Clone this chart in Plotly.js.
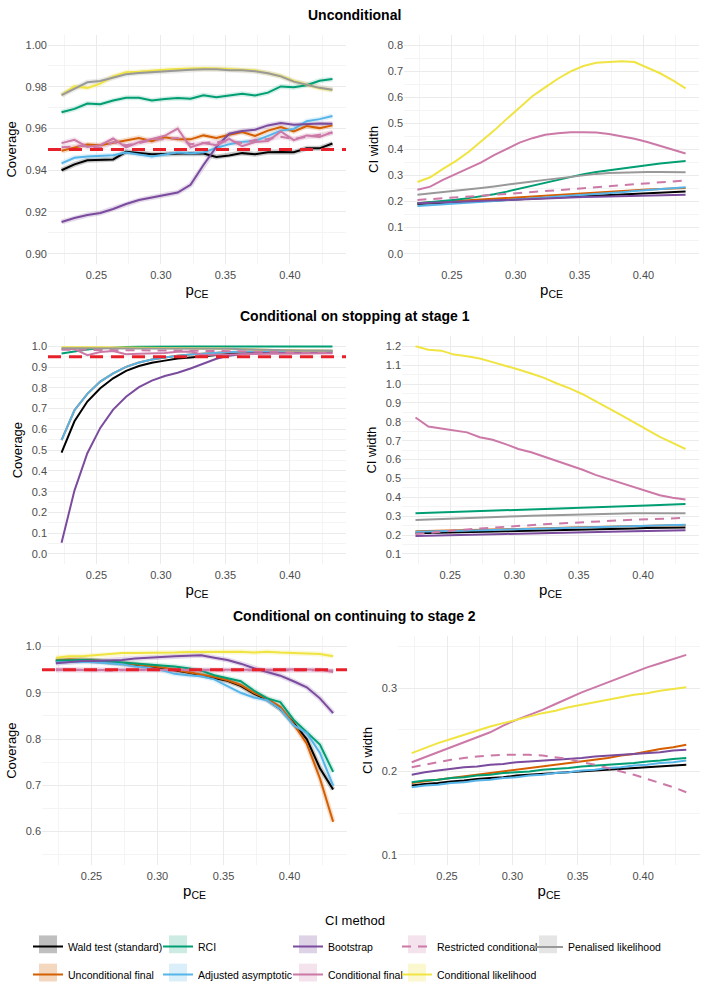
<!DOCTYPE html>
<html>
<head>
<meta charset="utf-8">
<script src="https://cdn.plot.ly/plotly-3.0.1.min.js"></script>
<style>html,body{margin:0;padding:0;background:#fff}#chart{width:709px;height:989px}</style>
</head>
<body>
<div id="chart"></div>
<script>
// ---------- DATA ----------
const pce = [0.223,0.233,0.243,0.253,0.263,0.273,0.283,0.293,0.303,0.313,0.323,0.333,0.343,0.353,0.363,0.373,0.383,0.393,0.403,0.413,0.423,0.433];

// Unconditional: coverage
const covU_wald   = [0.9400,0.9428,0.9448,0.9450,0.9452,0.9488,0.9481,0.9477,0.9478,0.9480,0.9481,0.9480,0.9464,0.9471,0.9482,0.9477,0.9486,0.9487,0.9486,0.9505,0.9505,0.9528];
const covU_uncond = [0.9493,0.9507,0.9523,0.9520,0.9532,0.9545,0.9555,0.9539,0.9558,0.9548,0.9548,0.9567,0.9555,0.9570,0.9583,0.9564,0.9590,0.9607,0.9586,0.9612,0.9602,0.9615];
const covU_rci    = [0.9678,0.9694,0.9720,0.9716,0.9734,0.9748,0.9748,0.9735,0.9742,0.9746,0.9743,0.9760,0.9750,0.9760,0.9767,0.9758,0.9772,0.9802,0.9798,0.9808,0.9829,0.9837];
const covU_adj    = [0.9433,0.9460,0.9466,0.9469,0.9472,0.9485,0.9475,0.9466,0.9475,0.9485,0.9482,0.9485,0.9507,0.9525,0.9536,0.9540,0.9565,0.9590,0.9598,0.9635,0.9645,0.9660];
const covU_boot   = [0.9152,0.9171,0.9185,0.9195,0.9214,0.9238,0.9257,0.9269,0.9284,0.9293,0.9330,0.9425,0.9512,0.9575,0.9588,0.9594,0.9615,0.9626,0.9618,0.9621,0.9624,0.9623];
const covU_cond   = [0.9530,0.9546,0.9512,0.9520,0.9552,0.9510,0.9535,0.9550,0.9565,0.9600,0.9510,0.9530,0.9520,0.9550,0.9515,0.9535,0.9540,0.9586,0.9544,0.9567,0.9560,0.9583];
const covU_restr  = [0.9510,0.9515,0.9518,0.9505,0.9535,0.9520,0.9530,0.9545,0.9550,0.9555,0.9525,0.9530,0.9535,0.9540,0.9530,0.9545,0.9550,0.9560,0.9550,0.9560,0.9570,0.9580];
const covU_clik   = [0.9760,0.9802,0.9795,0.9815,0.9850,0.9870,0.9872,0.9878,0.9882,0.9885,0.9888,0.9889,0.9888,0.9886,0.9882,0.9878,0.9866,0.9852,0.9828,0.9812,0.9793,0.9785];
const covU_pen    = [0.9760,0.9790,0.9822,0.9828,0.9845,0.9860,0.9866,0.9870,0.9875,0.9880,0.9882,0.9884,0.9884,0.9880,0.9880,0.9875,0.9865,0.9850,0.9825,0.9810,0.9795,0.9786];

// Unconditional: CI width
const widU_wald   = [0.190,0.192,0.194,0.197,0.199,0.201,0.204,0.206,0.209,0.211,0.214,0.216,0.218,0.221,0.223,0.225,0.227,0.229,0.232,0.234,0.236,0.238];
const widU_uncond = [0.193,0.196,0.199,0.202,0.205,0.208,0.211,0.214,0.217,0.221,0.224,0.227,0.230,0.233,0.236,0.239,0.241,0.244,0.246,0.248,0.250,0.252];
const widU_rci    = [0.193,0.197,0.202,0.207,0.213,0.220,0.228,0.238,0.249,0.260,0.271,0.282,0.294,0.305,0.313,0.320,0.327,0.334,0.340,0.346,0.351,0.355];
const widU_adj    = [0.183,0.186,0.189,0.192,0.195,0.198,0.201,0.205,0.208,0.212,0.215,0.219,0.222,0.226,0.229,0.233,0.236,0.240,0.244,0.248,0.251,0.255];
const widU_boot   = [0.193,0.195,0.197,0.199,0.201,0.203,0.205,0.207,0.209,0.211,0.212,0.214,0.215,0.217,0.218,0.219,0.220,0.221,0.222,0.223,0.225,0.226];
const widU_cond   = [0.245,0.257,0.283,0.305,0.330,0.350,0.378,0.403,0.426,0.443,0.456,0.462,0.466,0.466,0.465,0.459,0.451,0.441,0.428,0.413,0.398,0.384];
const widU_restr  = [0.206,0.209,0.212,0.216,0.219,0.222,0.226,0.229,0.233,0.236,0.240,0.243,0.247,0.251,0.255,0.259,0.263,0.267,0.271,0.275,0.278,0.281];
const widU_clik   = [0.275,0.293,0.325,0.355,0.390,0.430,0.472,0.517,0.562,0.604,0.638,0.671,0.699,0.720,0.732,0.736,0.738,0.735,0.714,0.692,0.665,0.634];
const widU_pen    = [0.226,0.231,0.235,0.240,0.246,0.252,0.258,0.265,0.271,0.277,0.283,0.289,0.295,0.301,0.306,0.309,0.311,0.312,0.313,0.313,0.313,0.312];

// Conditional on stopping at stage 1: coverage
const covS_wald   = [0.488,0.639,0.734,0.798,0.846,0.882,0.905,0.921,0.931,0.941,0.946,0.952,0.960,0.966,0.970,0.972,0.974,0.975,0.976,0.976,0.977,0.977];
const covS_uncond = [0.548,0.692,0.771,0.830,0.870,0.901,0.922,0.936,0.946,0.955,0.960,0.965,0.969,0.972,0.974,0.976,0.977,0.977,0.978,0.978,0.978,0.978];
const covS_rci    = [0.965,0.975,0.984,0.990,0.995,0.997,0.998,0.999,0.999,0.999,0.999,0.999,0.999,0.999,0.999,0.999,0.999,0.999,0.999,0.999,0.999,0.999];
const covS_adj    = [0.548,0.692,0.771,0.830,0.870,0.901,0.922,0.936,0.946,0.955,0.960,0.965,0.969,0.972,0.974,0.976,0.977,0.977,0.978,0.978,0.978,0.978];
const covS_boot   = [0.054,0.305,0.485,0.607,0.695,0.757,0.803,0.835,0.857,0.873,0.893,0.918,0.940,0.955,0.963,0.966,0.967,0.967,0.968,0.968,0.968,0.968];
const covS_cond   = [0.988,0.986,0.957,0.972,0.977,0.962,0.964,0.966,0.968,0.974,0.975,0.958,0.960,0.961,0.962,0.963,0.964,0.965,0.965,0.965,0.966,0.966];
const covS_restr  = [0.983,0.984,0.983,0.982,0.982,0.981,0.981,0.980,0.980,0.979,0.979,0.978,0.977,0.976,0.975,0.974,0.973,0.972,0.972,0.971,0.971,0.970];
const covS_clik   = [0.996,0.997,0.996,0.995,0.994,0.993,0.992,0.991,0.991,0.991,0.991,0.990,0.990,0.988,0.986,0.984,0.982,0.980,0.979,0.978,0.978,0.977];
const covS_pen    = [0.991,0.991,0.991,0.991,0.991,0.991,0.991,0.991,0.991,0.991,0.991,0.990,0.990,0.988,0.986,0.984,0.982,0.980,0.979,0.978,0.978,0.977];

// Conditional on stopping at stage 1: CI width
const widS_wald   = [0.210,0.211,0.213,0.214,0.216,0.217,0.219,0.220,0.222,0.223,0.225,0.226,0.228,0.229,0.231,0.232,0.234,0.235,0.237,0.238,0.239,0.240];
const widS_uncond = [0.220,0.221,0.223,0.224,0.226,0.227,0.229,0.231,0.232,0.234,0.236,0.237,0.239,0.241,0.243,0.244,0.246,0.248,0.249,0.251,0.252,0.253];
const widS_rci    = [0.316,0.318,0.321,0.323,0.325,0.328,0.330,0.332,0.334,0.337,0.339,0.341,0.343,0.345,0.347,0.349,0.352,0.354,0.356,0.359,0.362,0.365];
const widS_adj    = [0.218,0.219,0.221,0.222,0.224,0.226,0.227,0.229,0.231,0.232,0.234,0.236,0.238,0.240,0.242,0.244,0.246,0.248,0.250,0.252,0.254,0.255];
const widS_boot   = [0.195,0.197,0.198,0.200,0.201,0.203,0.204,0.206,0.207,0.209,0.210,0.212,0.213,0.215,0.216,0.218,0.219,0.220,0.222,0.223,0.224,0.225];
const widS_cond   = [0.823,0.775,0.765,0.756,0.744,0.718,0.705,0.682,0.656,0.639,0.616,0.591,0.568,0.546,0.519,0.498,0.477,0.454,0.432,0.411,0.398,0.388];
const widS_restr  = [0.205,0.212,0.218,0.224,0.230,0.235,0.240,0.245,0.249,0.253,0.257,0.261,0.265,0.268,0.272,0.275,0.278,0.281,0.284,0.286,0.289,0.291];
const widS_clik   = [1.200,1.182,1.177,1.156,1.147,1.135,1.116,1.098,1.077,1.056,1.033,1.003,0.977,0.946,0.911,0.872,0.835,0.797,0.760,0.720,0.688,0.656];
const widS_pen    = [0.280,0.283,0.286,0.288,0.291,0.293,0.296,0.298,0.300,0.302,0.304,0.306,0.308,0.310,0.312,0.313,0.314,0.315,0.316,0.316,0.316,0.316];

// Conditional on continuing to stage 2: coverage
const covC_wald   = [0.969,0.971,0.971,0.969,0.966,0.964,0.961,0.957,0.954,0.949,0.944,0.938,0.933,0.926,0.915,0.898,0.885,0.865,0.835,0.800,0.737,0.691];
const covC_uncond = [0.970,0.972,0.971,0.970,0.967,0.965,0.962,0.958,0.955,0.950,0.945,0.939,0.934,0.927,0.917,0.900,0.887,0.870,0.833,0.790,0.715,0.621];
const covC_rci    = [0.970,0.971,0.971,0.970,0.968,0.966,0.964,0.962,0.960,0.957,0.953,0.948,0.938,0.931,0.925,0.905,0.888,0.880,0.842,0.815,0.788,0.729];
const covC_adj    = [0.966,0.967,0.967,0.966,0.964,0.962,0.957,0.954,0.949,0.941,0.938,0.936,0.929,0.915,0.900,0.890,0.884,0.865,0.830,0.813,0.770,0.699];
const covC_boot   = [0.964,0.967,0.969,0.969,0.970,0.971,0.974,0.976,0.977,0.979,0.980,0.981,0.976,0.971,0.963,0.953,0.945,0.937,0.925,0.912,0.888,0.856];
const covC_cond   = [0.951,0.950,0.950,0.949,0.950,0.950,0.949,0.950,0.949,0.950,0.950,0.950,0.949,0.949,0.950,0.950,0.950,0.950,0.951,0.951,0.950,0.945];
const covC_restr  = [0.949,0.950,0.949,0.950,0.948,0.949,0.950,0.949,0.950,0.949,0.949,0.950,0.950,0.949,0.949,0.949,0.950,0.950,0.950,0.950,0.949,0.948];
const covC_clik   = [0.976,0.979,0.979,0.981,0.984,0.986,0.986,0.986,0.987,0.987,0.988,0.988,0.988,0.989,0.989,0.987,0.989,0.987,0.986,0.986,0.984,0.979];

// Conditional on continuing to stage 2: CI width
const widC_wald   = [0.183,0.185,0.186,0.188,0.189,0.191,0.192,0.193,0.195,0.196,0.197,0.198,0.199,0.200,0.201,0.202,0.203,0.204,0.205,0.206,0.207,0.208];
const widC_uncond = [0.186,0.188,0.190,0.192,0.194,0.196,0.198,0.200,0.202,0.204,0.206,0.208,0.210,0.212,0.214,0.216,0.219,0.221,0.224,0.227,0.229,0.232];
const widC_rci    = [0.187,0.189,0.190,0.192,0.193,0.195,0.196,0.198,0.199,0.200,0.202,0.203,0.204,0.206,0.207,0.208,0.209,0.210,0.212,0.213,0.215,0.216];
const widC_adj    = [0.181,0.183,0.184,0.186,0.187,0.189,0.190,0.192,0.193,0.195,0.196,0.198,0.199,0.201,0.202,0.204,0.205,0.207,0.208,0.210,0.211,0.213];
const widC_boot   = [0.196,0.199,0.201,0.203,0.205,0.206,0.208,0.209,0.211,0.212,0.213,0.214,0.215,0.216,0.218,0.219,0.220,0.221,0.222,0.223,0.225,0.226];
const widC_cond   = [0.211,0.217,0.223,0.229,0.235,0.241,0.247,0.255,0.262,0.268,0.274,0.281,0.288,0.295,0.301,0.307,0.313,0.319,0.325,0.330,0.335,0.340];
const widC_restr  = [0.205,0.208,0.211,0.214,0.216,0.218,0.219,0.220,0.220,0.220,0.219,0.217,0.215,0.211,0.208,0.204,0.200,0.196,0.191,0.186,0.181,0.175];
const widC_clik   = [0.222,0.228,0.234,0.239,0.244,0.249,0.254,0.258,0.262,0.266,0.270,0.273,0.277,0.280,0.283,0.286,0.289,0.292,0.294,0.297,0.299,0.301];

const nominalCoverage = 0.95;

// ---------- STYLE ----------
const methods = [
  {key:'wald',   name:'Wald test (standard)',   color:'#000000', fill:'rgba(0,0,0,0.25)',        legend:'legend'},
  {key:'uncond', name:'Unconditional final',    color:'#D55E00', fill:'rgba(213,94,0,0.25)',     legend:'legend'},
  {key:'rci',    name:'RCI',                    color:'#009E73', fill:'rgba(0,158,115,0.2)',     legend:'legend2'},
  {key:'adj',    name:'Adjusted asymptotic',    color:'#56B4E9', fill:'rgba(86,180,233,0.22)',   legend:'legend2'},
  {key:'boot',   name:'Bootstrap',              color:'#7B4B9E', fill:'rgba(123,75,158,0.25)',   legend:'legend3'},
  {key:'cond',   name:'Conditional final',      color:'#CC79A7', fill:'rgba(204,121,167,0.22)',  legend:'legend3'},
  {key:'restr',  name:'Restricted conditional', color:'#CC79A7', fill:'rgba(204,121,167,0.22)',  legend:'legend4', dash:'9px,7px'},
  {key:'clik',   name:'Conditional likelihood', color:'#F0E442', fill:'rgba(240,228,66,0.25)',   legend:'legend4'},
  {key:'pen',    name:'Penalised likelihood',   color:'#999999', fill:'rgba(153,153,153,0.25)',  legend:'legend5'}
];

const panels = [
  {xa:'x',  ya:'y',  halo:true,  ref:true,  data:{wald:covU_wald,uncond:covU_uncond,rci:covU_rci,adj:covU_adj,boot:covU_boot,cond:covU_cond,restr:covU_restr,clik:covU_clik,pen:covU_pen}},
  {xa:'x2', ya:'y2', halo:false, ref:false, data:{wald:widU_wald,uncond:widU_uncond,rci:widU_rci,adj:widU_adj,boot:widU_boot,cond:widU_cond,restr:widU_restr,clik:widU_clik,pen:widU_pen}},
  {xa:'x3', ya:'y3', halo:false, ref:true,  data:{wald:covS_wald,uncond:covS_uncond,rci:covS_rci,adj:covS_adj,boot:covS_boot,cond:covS_cond,restr:covS_restr,clik:covS_clik,pen:covS_pen}},
  {xa:'x4', ya:'y4', halo:false, ref:false, data:{wald:widS_wald,uncond:widS_uncond,rci:widS_rci,adj:widS_adj,boot:widS_boot,cond:widS_cond,restr:widS_restr,clik:widS_clik,pen:widS_pen}},
  {xa:'x5', ya:'y5', halo:true,  ref:true,  data:{wald:covC_wald,uncond:covC_uncond,rci:covC_rci,adj:covC_adj,boot:covC_boot,cond:covC_cond,restr:covC_restr,clik:covC_clik}},
  {xa:'x6', ya:'y6', halo:false, ref:false, data:{wald:widC_wald,uncond:widC_uncond,rci:widC_rci,adj:widC_adj,boot:widC_boot,cond:widC_cond,restr:widC_restr,clik:widC_clik}}
];

const traces = [];
panels.forEach((p, pi) => {
  if (p.halo) {
    methods.forEach(m => {
      if (!p.data[m.key]) return;
      traces.push({type:'scatter', mode:'lines', x:pce, y:p.data[m.key], xaxis:p.xa, yaxis:p.ya,
        line:{color:m.fill, width:5}, opacity:0.8, showlegend:false, hoverinfo:'skip'});
    });
  }
  methods.forEach(m => {
    if (!p.data[m.key]) return;
    traces.push({type:'scatter', mode:'lines', name:m.name, x:pce, y:p.data[m.key],
      xaxis:p.xa, yaxis:p.ya, legend:m.legend, legendgroup:m.key,
      showlegend: pi === 0,
      line:{color:m.color, width:2, dash:m.dash || 'solid'}});
  });
});

// ---------- LAYOUT ----------
const W = 709, H = 989;
const px = v => v / W, py = v => 1 - v / H;
const GRID = '#EBEBEB', MINOR = '#F4F4F4';
const tickFont = {family:'Liberation Sans, Arial, sans-serif', size:11, color:'#4D4D4D'};
const titleFont = {family:'Liberation Sans, Arial, sans-serif', size:13, color:'#000'};

function xAxis(d0, d1, anchor) {
  return {domain:[px(d0), px(d1)], anchor:anchor, range:[0.2125, 0.4435],
    tick0:0.25, dtick:0.05, tickformat:'.2f', ticks:'', showline:false, zeroline:false,
    showgrid:true, gridcolor:GRID, gridwidth:1, ticklabelstandoff:3,
    minor:{tick0:0.225, dtick:0.025, showgrid:true, gridcolor:MINOR, gridwidth:1},
    tickfont:tickFont, automargin:false, fixedrange:true,
    title:{text:'p<sub>CE</sub>', font:{family:titleFont.family, size:15, color:'#000'}, standoff:4}};
}
function yAxis(d0, d1, anchor, range, dtick, fmt, title) {
  return {domain:[py(d1), py(d0)], anchor:anchor, range:range,
    tick0:0, dtick:dtick, tickformat:fmt, ticks:'', showline:false, zeroline:false,
    showgrid:true, gridcolor:GRID, gridwidth:1,
    minor:{dtick:dtick/2, showgrid:true, gridcolor:MINOR, gridwidth:1},
    tickfont:tickFont, automargin:false, fixedrange:true,
    title:{text:title, font:titleFont, standoff:6}};
}

const layout = {
  width:W, height:H, margin:{l:0, r:0, t:0, b:0},
  paper_bgcolor:'#fff', plot_bgcolor:'#fff',
  font:{family:'Liberation Sans, Arial, sans-serif', color:'#000'},
  xaxis:  xAxis(48, 346, 'y'),
  yaxis:  yAxis(35, 266.5, 'x',  [0.895, 1.005], 0.02, '.2f', 'Coverage'),
  xaxis2: xAxis(404, 699, 'y2'),
  yaxis2: yAxis(35, 266.5, 'x2', [-0.04, 0.84], 0.1, '.1f', 'CI width'),
  xaxis3: xAxis(48, 346, 'y3'),
  yaxis3: yAxis(339, 569.5, 'x3', [-0.05, 1.05], 0.1, '.1f', 'Coverage'),
  xaxis4: xAxis(402, 699, 'y4'),
  yaxis4: yAxis(339, 569.5, 'x4', [0.045, 1.255], 0.1, '.1f', 'CI width'),
  xaxis5: xAxis(42, 347, 'y5'),
  yaxis5: yAxis(642, 873, 'x5', [0.5275, 1.0225], 0.1, '.1f', 'Coverage'),
  xaxis6: xAxis(398, 700, 'y6'),
  yaxis6: yAxis(642, 873, 'x6', [0.0875, 0.3625], 0.1, '.1f', 'CI width'),
  annotations: [],
  shapes: []
};

// Row titles
[['Unconditional', 15], ['Conditional on stopping at stage 1', 319], ['Conditional on continuing to stage 2', 622]].forEach(([t, y]) => {
  layout.annotations.push({text:'<b>' + t + '</b>', xref:'paper', yref:'paper', x:0.5, y:py(y),
    xanchor:'center', yanchor:'middle', showarrow:false,
    font:{family:'Liberation Sans, Arial, sans-serif', size:14, color:'#000'}});
});

// Legend title
layout.annotations.push({text:'CI method', xref:'paper', yref:'paper', x:px(355), y:py(929),
  xanchor:'center', yanchor:'middle', showarrow:false,
  font:{family:'Liberation Sans, Arial, sans-serif', size:13, color:'#000'}});

// Nominal coverage reference lines
panels.forEach(p => {
  if (!p.ref) return;
  layout.shapes.push({type:'line', xref:p.xa + ' domain', yref:p.ya, x0:0, x1:1,
    y0:nominalCoverage, y1:nominalCoverage, layer:'above',
    line:{color:'#E8202A', width:3, dash:'13px,8px'}});
});

// Legends (5 columns)
const legX = [28, 158, 288, 397, 528];
const legNames = ['legend', 'legend2', 'legend3', 'legend4', 'legend5'];
legNames.forEach((ln, i) => {
  layout[ln] = {x:px(legX[i]), y:py(941), xanchor:'left', yanchor:'top', orientation:'v',
    bgcolor:'rgba(0,0,0,0)', borderwidth:0, tracegroupgap:9, itemwidth:30,
    font:{family:'Liberation Sans, Arial, sans-serif', size:10.5, color:'#000'}};
});
// legend key backgrounds
const rowsY = [953, 981.5];
methods.forEach(m => {
  const col = legNames.indexOf(m.legend);
  const row = methods.filter(q => q.legend === m.legend).indexOf(m);
  const cx = legX[col] + 20, cy = rowsY[row];
  layout.shapes.push({type:'rect', xref:'paper', yref:'paper', layer:'below',
    x0:px(cx - 9), x1:px(cx + 9), y0:py(cy + 9), y1:py(cy - 9),
    fillcolor:m.fill, line:{width:0}});
});

Plotly.newPlot('chart', traces, layout, {displayModeBar:false, responsive:false});
</script>
</body>
</html>
